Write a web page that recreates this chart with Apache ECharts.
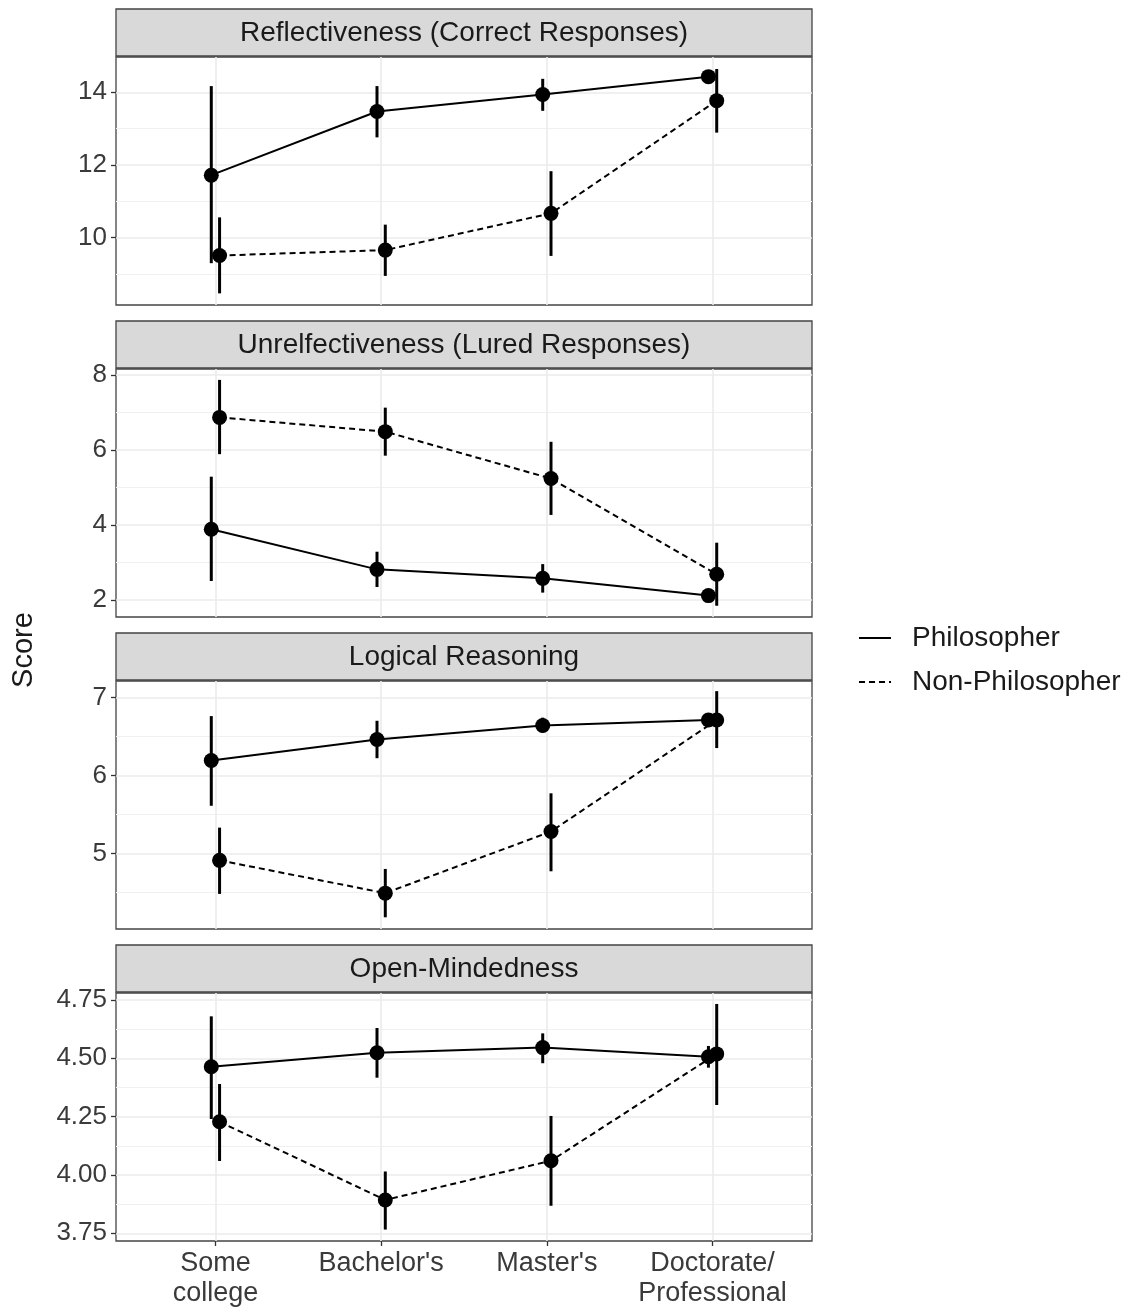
<!DOCTYPE html>
<html>
<head>
<meta charset="utf-8">
<title>Score by education</title>
<script src="https://cdn.jsdelivr.net/npm/echarts@6/dist/echarts.min.js"></script>
<style>
  html, body { margin: 0; padding: 0; background: #fff; }
  #chart { width: 1128px; height: 1310px; }
</style>
</head>
<body>
<div id="chart"></div>
<script>
// categories sit at 1..4 on a value x axis so the two groups can be dodged
var categories = ['Some\ncollege', "Bachelor's", "Master's", 'Doctorate/\nProfessional'];
var xTicks = [1, 2, 3, 4];
var panelTitles = [
  'Reflectiveness (Correct Responses)',
  'Unrelfectiveness (Lured Responses)',
  'Logical Reasoning',
  'Open-Mindedness'
];
var groupNames = ['Philosopher', 'Non-Philosopher'];

// Reflectiveness
var reflectPhilMean = [11.72, 13.47, 13.94, 14.43];
var reflectPhilLow  = [9.30, 12.76, 13.49, 14.30];
var reflectPhilHigh = [14.17, 14.17, 14.37, 14.56];
var reflectNonMean  = [9.51, 9.66, 10.67, 13.77];
var reflectNonLow   = [8.47, 8.95, 9.50, 12.89];
var reflectNonHigh  = [10.56, 10.36, 11.83, 14.64];

// Unreflectiveness
var lurePhilMean = [3.89, 2.82, 2.58, 2.12];
var lurePhilLow  = [2.51, 2.35, 2.20, 1.98];
var lurePhilHigh = [5.29, 3.29, 2.96, 2.27];
var lureNonMean  = [6.87, 6.49, 5.24, 2.69];
var lureNonLow   = [5.89, 5.85, 4.27, 1.85];
var lureNonHigh  = [7.87, 7.13, 6.22, 3.53];

// Logical reasoning
var logicPhilMean = [6.19, 6.46, 6.64, 6.71];
var logicPhilLow  = [5.61, 6.22, 6.55, 6.63];
var logicPhilHigh = [6.76, 6.70, 6.74, 6.78];
var logicNonMean  = [4.91, 4.49, 5.28, 6.71];
var logicNonLow   = [4.48, 4.18, 4.77, 6.35];
var logicNonHigh  = [5.33, 4.80, 5.77, 7.08];

// Open-mindedness
var openPhilMean = [4.464, 4.524, 4.546, 4.507];
var openPhilLow  = [4.24, 4.417, 4.479, 4.46];
var openPhilHigh = [4.68, 4.63, 4.607, 4.553];
var openNonMean  = [4.228, 3.893, 4.061, 4.519];
var openNonLow   = [4.06, 3.766, 3.868, 4.30];
var openNonHigh  = [4.39, 4.015, 4.253, 4.733];

// y axis ranges and tick labels per panel
var yMins = [8.15, 1.55, 4.03, 3.717];
var yMaxs = [14.97, 8.16, 7.21, 4.78];
var yTicks = [[10, 12, 14], [2, 4, 6, 8], [5, 6, 7], [3.75, 4.00, 4.25, 4.50, 4.75]];
var yMinorTicks = [[9, 11, 13], [3, 5, 7], [4.5, 5.5, 6.5], [3.875, 4.125, 4.375, 4.625]];
var yDecimals = [0, 0, 0, 2];

var panelData = [
  [[reflectPhilMean, reflectPhilLow, reflectPhilHigh], [reflectNonMean, reflectNonLow, reflectNonHigh]],
  [[lurePhilMean, lurePhilLow, lurePhilHigh], [lureNonMean, lureNonLow, lureNonHigh]],
  [[logicPhilMean, logicPhilLow, logicPhilHigh], [logicNonMean, logicNonLow, logicNonHigh]],
  [[openPhilMean, openPhilLow, openPhilHigh], [openNonMean, openNonLow, openNonHigh]]
];

var fontFamily = "'Liberation Sans', Arial, Helvetica, sans-serif";
var gridLeft = 116, gridWidth = 696, gridHeight = 248;
var stripHeight = 47, firstTop = 9, panelStep = 312;
var dodge = [-0.025, 0.025];
var lineTypes = ['solid', [6, 4]];

function errorBar(params, api) {
  var x = api.value(0);
  var lo = api.coord([x, api.value(1)]);
  var hi = api.coord([x, api.value(2)]);
  return {
    type: 'line',
    shape: { x1: lo[0], y1: lo[1], x2: hi[0], y2: hi[1] },
    style: { stroke: '#000', lineWidth: 3 }
  };
}

var grids = [], xAxes = [], yAxes = [], series = [], graphics = [];

panelTitles.forEach(function (title, i) {
  var stripTop = firstTop + i * panelStep;
  var gridTop = stripTop + stripHeight + 1;
  var last = i === panelTitles.length - 1;

  grids.push({
    left: gridLeft, top: gridTop, width: gridWidth, height: gridHeight,
    show: true, borderColor: '#444', borderWidth: 1.3, backgroundColor: '#fff'
  });

  xAxes.push({
    type: 'value', gridIndex: i, min: 0.4, max: 4.6,
    axisLine: { show: false },
    axisTick: { show: last, customValues: xTicks, length: 5, lineStyle: { color: '#333', width: 1.3 } },
    axisLabel: {
      show: last, customValues: xTicks, margin: 8,
      formatter: function (v) { return categories[Math.round(v) - 1]; },
      fontSize: 27, lineHeight: 30, fontFamily: fontFamily, color: '#3a3a3a'
    },
    splitLine: { show: true, lineStyle: { color: '#ebebeb', width: 1.6 } }
  });

  yAxes.push({
    type: 'value', gridIndex: i, min: yMins[i], max: yMaxs[i],
    axisLine: { show: false },
    axisTick: { show: true, customValues: yTicks[i], length: 5, lineStyle: { color: '#333', width: 1.3 } },
    axisLabel: {
      customValues: yTicks[i], margin: 9,
      formatter: function (v) { return v.toFixed(yDecimals[i]); },
      fontSize: 26, fontFamily: fontFamily, color: '#3a3a3a'
    },
    splitLine: { show: true, lineStyle: { color: '#ebebeb', width: 1.6 } }
  });
  // second axis only for the minor grid lines
  yAxes.push({
    type: 'value', gridIndex: i, min: yMins[i], max: yMaxs[i], position: 'left',
    axisLine: { show: false },
    axisTick: { show: false, customValues: yMinorTicks[i] },
    axisLabel: { show: false },
    splitLine: { show: true, lineStyle: { color: '#f0f0f0', width: 1 } }
  });

  panelData[i].forEach(function (g, k) {
    var mean = g[0], low = g[1], high = g[2];
    var pts = mean.map(function (m, j) { return [xTicks[j] + dodge[k], m]; });
    var bars = mean.map(function (m, j) { return [xTicks[j] + dodge[k], low[j], high[j]]; });

    series.push({
      type: 'line', name: groupNames[k], xAxisIndex: i, yAxisIndex: 2 * i,
      data: pts, symbol: 'none', silent: true, z: 3,
      itemStyle: { color: '#000' },
      lineStyle: { color: '#000', width: 2, type: lineTypes[k] }
    });
    series.push({
      type: 'custom', xAxisIndex: i, yAxisIndex: 2 * i, silent: true, z: 4,
      renderItem: errorBar, data: bars
    });
    series.push({
      type: 'scatter', xAxisIndex: i, yAxisIndex: 2 * i, silent: true, z: 5,
      data: pts, symbol: 'circle', symbolSize: 15,
      itemStyle: { color: '#000', opacity: 1 }
    });
  });

  // facet strip
  graphics.push({
    type: 'rect', z: 10,
    shape: { x: gridLeft, y: stripTop, width: gridWidth, height: stripHeight },
    style: { fill: '#d9d9d9', stroke: '#444', lineWidth: 1.3 }
  });
  graphics.push({
    type: 'text', z: 11,
    x: gridLeft + gridWidth / 2, y: stripTop + stripHeight / 2 + 1,
    style: {
      text: title, fontSize: 28, fontFamily: fontFamily, fill: '#1a1a1a',
      align: 'center', verticalAlign: 'middle'
    }
  });
});

graphics.push({
  type: 'text', z: 11, x: 24, y: 650, rotation: Math.PI / 2,
  style: {
    text: 'Score', fontSize: 29, fontFamily: fontFamily, fill: '#1a1a1a',
    align: 'center', verticalAlign: 'middle'
  }
});

var chart = echarts.init(document.getElementById('chart'), null, { renderer: 'canvas' });
chart.setOption({
  animation: false,
  backgroundColor: '#fff',
  grid: grids,
  xAxis: xAxes,
  yAxis: yAxes,
  legend: {
    data: groupNames, orient: 'vertical', left: 853, top: 619,
    itemWidth: 32, itemHeight: 20, itemGap: 16, selectedMode: false,
    itemStyle: { opacity: 0 },
    textStyle: { fontSize: 28, lineHeight: 28, fontFamily: fontFamily, color: '#1a1a1a', padding: [0, 0, 0, 16] }
  },
  graphic: graphics,
  series: series
});
</script>
</body>
</html>
